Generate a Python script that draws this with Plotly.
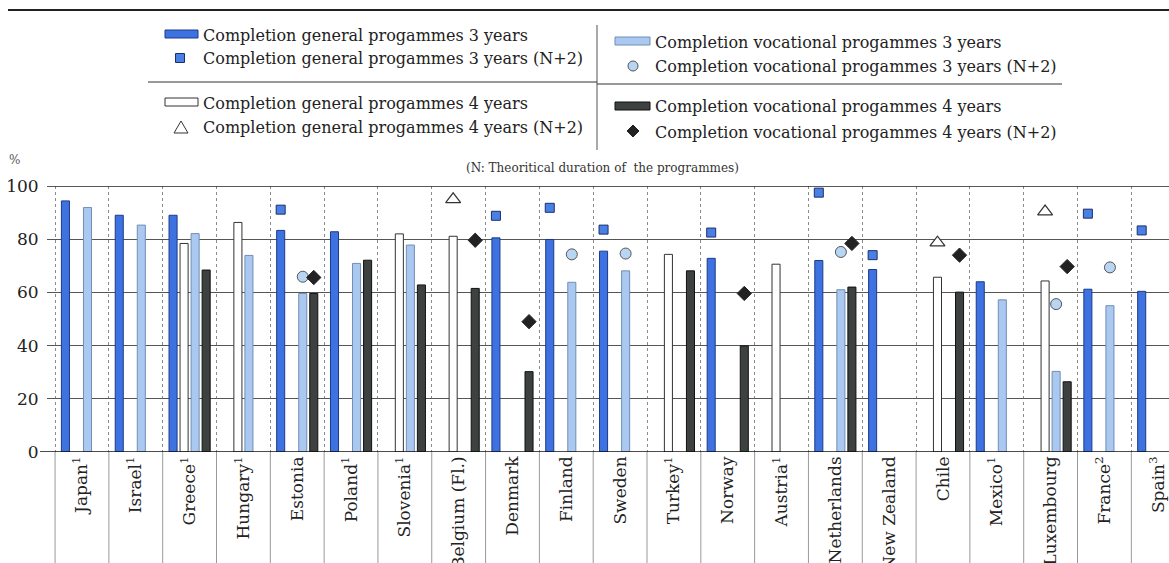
import plotly.graph_objects as go

# ---------------- data ----------------
countries = ["Japan<sup>1</sup>", "Israel<sup>1</sup>", "Greece<sup>1</sup>", "Hungary<sup>1</sup>",
             "Estonia", "Poland<sup>1</sup>", "Slovenia<sup>1</sup>", "Belgium (Fl.)", "Denmark",
             "Finland", "Sweden", "Turkey<sup>1</sup>", "Norway", "Austria<sup>1</sup>",
             "Netherlands", "New Zealand", "Chile", "Mexico<sup>1</sup>", "Luxembourg",
             "France<sup>2</sup>", "Spain<sup>3</sup>"]
N = None
general_3y = [94.4, 89.0, 89.0, N, 83.3, 82.8, N, N, 80.5, 79.9, 75.5, N, 72.8, N,
              72.0, 68.6, N, 64.0, N, 61.2, 60.4]
general_4y = [N, N, 78.4, 86.3, N, N, 82.0, 81.1, N, N, N, 74.3, N, 70.6,
              N, N, 65.7, N, 64.3, N, N]
vocational_3y = [91.9, 85.3, 82.1, 73.9, 59.6, 70.9, 77.8, N, N, 63.8, 68.1, N, N, N,
                 61.0, N, N, 57.2, 30.3, 55.0, N]
vocational_4y = [N, N, 68.4, N, 59.6, 72.1, 62.8, 61.5, 30.2, N, N, 68.1, 39.9, N,
                 62.0, N, 60.1, N, 26.4, N, N]
general_3y_n2 = [N, N, N, N, 91.1, N, N, N, 88.8, 91.8, 83.6, N, 82.5, N,
                 97.5, 74.0, N, N, N, 89.6, 83.3]
general_4y_n2 = [N, N, N, N, N, N, N, 95.0, N, N, N, N, N, N,
                 N, N, 78.7, N, 90.4, N, N]
vocational_3y_n2 = [N, N, N, N, 65.9, N, N, N, N, 74.3, 74.6, N, N, N,
                    75.2, N, N, N, 55.6, 69.4, N]
vocational_4y_n2 = [N, N, N, N, 65.6, N, N, 79.6, 49.0, N, N, N, 59.6, N,
                    78.4, N, 74.0, N, 69.7, N, N]

legend_labels = [
    "Completion general progammes 3 years",
    "Completion general progammes 3 years (N+2)",
    "Completion general progammes 4 years",
    "Completion general progammes 4 years (N+2)",
    "Completion vocational progammes 3 years",
    "Completion vocational progammes 3 years (N+2)",
    "Completion vocational progammes 4 years",
    "Completion vocational progammes 4 years (N+2)",
]

# ---------------- styles ----------------
BLUE, BLUE_LINE = "#3d72e0", "#1d3a8a"
LBLUE, LBLUE_LINE = "#abc9f0", "#6f8fb5"
WHITE, WHITE_LINE = "#ffffff", "#333333"
DARK, DARK_LINE = "#3d4140", "#111111"
SQ, SQ_LINE = "#4a80e6", "#1b2f6b"
CIRC, CIRC_LINE = "#b8d5f3", "#555555"
DIAM = "#222222"
SERIF = "DejaVu Serif"

W, H = 1169, 563
ML, MR, MT, MB = 47, 0, 186, 111
PW, PH = W - ML - MR, H - MT - MB


def px_x(x):
    return (x - ML) / PW


def px_y(y):
    return (H - MB - y) / PH


fig = go.Figure()

bar_specs = [
    (general_3y, legend_labels[0], BLUE, BLUE_LINE),
    (general_4y, legend_labels[2], WHITE, WHITE_LINE),
    (vocational_3y, legend_labels[4], LBLUE, LBLUE_LINE),
    (vocational_4y, legend_labels[6], DARK, DARK_LINE),
]
for i, (vals, name, fc, lc) in enumerate(bar_specs):
    fig.add_trace(go.Bar(x=countries, y=vals, name=name, marker_color=fc,
                         offsetgroup=str(i + 1),
                         marker_line_color=lc, marker_line_width=1, showlegend=False))

sc_specs = [
    (general_3y_n2, legend_labels[1], "square", 9, SQ, SQ_LINE, 1),
    (general_4y_n2, legend_labels[3], "triangle-up", 13, "#ffffff", "#333333", 1.2),
    (vocational_3y_n2, legend_labels[5], "circle", 11, CIRC, CIRC_LINE, 1),
    (vocational_4y_n2, legend_labels[7], "diamond", 11, DIAM, DIAM, 1),
]
for i, (vals, name, sym, sz, fc, lc, lw) in enumerate(sc_specs):
    fig.add_trace(go.Scatter(x=countries, y=vals, name=name, mode="markers",
                             offsetgroup=str(i + 1), cliponaxis=False,
                             marker=dict(symbol=sym, size=sz, color=fc,
                                         line=dict(color=lc, width=lw)),
                             showlegend=False))

shapes = []
# separators in label area
for i in range(len(countries) + 1):
    shapes.append(dict(type="line", xref="x", yref="paper", x0=i - 0.5, x1=i - 0.5,
                       y0=0, y1=-MB / PH, line=dict(color="#999999", width=1)))
# top border line of plot at 100
shapes.append(dict(type="line", xref="paper", yref="y", x0=0, x1=1, y0=100, y1=100,
                   line=dict(color="#222222", width=1.5)))
# zero line extension
shapes.append(dict(type="line", xref="paper", yref="y", x0=px_x(40), x1=1, y0=0, y1=0,
                   line=dict(color="#111111", width=1.5)))
# top rule
shapes.append(dict(type="line", xref="paper", yref="paper", x0=px_x(8), x1=px_x(1169),
                   y0=px_y(10), y1=px_y(10), line=dict(color="#222222", width=2)))
# legend separators
shapes.append(dict(type="line", xref="paper", yref="paper", x0=px_x(597), x1=px_x(597),
                   y0=px_y(25), y1=px_y(150), line=dict(color="#555555", width=1)))
shapes.append(dict(type="line", xref="paper", yref="paper", x0=px_x(148), x1=px_x(597),
                   y0=px_y(82), y1=px_y(82), line=dict(color="#333333", width=1)))
shapes.append(dict(type="line", xref="paper", yref="paper", x0=px_x(597), x1=px_x(1062),
                   y0=px_y(84), y1=px_y(84), line=dict(color="#333333", width=1)))


def rect_key(x0, x1, yc, fc, lc):
    shapes.append(dict(type="rect", xref="paper", yref="paper", x0=px_x(x0), x1=px_x(x1),
                       y0=px_y(yc - 4), y1=px_y(yc + 4), fillcolor=fc,
                       line=dict(color=lc, width=1)))


def sym_key(kind, xc, yc, fc, lc):
    if kind == "square":
        shapes.append(dict(type="rect", xref="paper", yref="paper", x0=px_x(xc - 4.5),
                           x1=px_x(xc + 4.5), y0=px_y(yc - 4.5), y1=px_y(yc + 4.5),
                           fillcolor=fc, line=dict(color=lc, width=1)))
    elif kind == "circle":
        shapes.append(dict(type="circle", xref="paper", yref="paper", x0=px_x(xc - 5),
                           x1=px_x(xc + 5), y0=px_y(yc - 5), y1=px_y(yc + 5),
                           fillcolor=fc, line=dict(color=lc, width=1)))
    elif kind == "triangle":
        p = "M {} {} L {} {} L {} {} Z".format(px_x(xc), px_y(yc - 6), px_x(xc - 7),
                                               px_y(yc + 6), px_x(xc + 7), px_y(yc + 6))
        shapes.append(dict(type="path", xref="paper", yref="paper", path=p,
                           fillcolor=fc, line=dict(color=lc, width=1)))
    elif kind == "diamond":
        p = "M {} {} L {} {} L {} {} L {} {} Z".format(px_x(xc), px_y(yc - 6), px_x(xc + 6),
                                                       px_y(yc), px_x(xc), px_y(yc + 6),
                                                       px_x(xc - 6), px_y(yc))
        shapes.append(dict(type="path", xref="paper", yref="paper", path=p,
                           fillcolor=fc, line=dict(color=lc, width=1)))


annotations = []


def label(text, x, y, size=16, color="#222222", xanchor="left"):
    annotations.append(dict(text=text, xref="paper", yref="paper", x=px_x(x), y=px_y(y),
                            xanchor=xanchor, yanchor="middle", showarrow=False,
                            font=dict(family=SERIF, size=size, color=color)))


# left legend column
rect_key(165, 198, 34, BLUE, BLUE_LINE)
label(legend_labels[0], 201, 35)
sym_key("square", 180, 58, SQ, SQ_LINE)
label(legend_labels[1], 201, 59)
rect_key(165, 198, 102, WHITE, WHITE_LINE)
label(legend_labels[2], 201, 103)
sym_key("triangle", 181, 127, "#ffffff", "#333333")
label(legend_labels[3], 201, 128)
# right legend column
rect_key(615, 650, 41, LBLUE, LBLUE_LINE)
label(legend_labels[4], 653, 42)
sym_key("circle", 633, 66, CIRC, CIRC_LINE)
label(legend_labels[5], 653, 67)
rect_key(615, 650, 106, DARK, DARK_LINE)
label(legend_labels[6], 653, 107)
sym_key("diamond", 633, 131, DIAM, DIAM)
label(legend_labels[7], 653, 132)
# axis unit + note
label("%", 14, 160, size=12, color="#555555", xanchor="center")
label("(N: Theoritical duration of  the programmes)", 602, 168, size=12,
      color="#333333", xanchor="center")

fig.update_layout(
    width=W, height=H,
    margin=dict(l=ML, r=MR, t=MT, b=MB, autoexpand=False),
    paper_bgcolor="white", plot_bgcolor="white",
    barmode="group", bargap=0.18, bargroupgap=0.27,
    scattermode="group", scattergap=0.18,
    showlegend=False,
    shapes=shapes, annotations=annotations,
    font=dict(family=SERIF, color="#222222"),
)
fig.update_xaxes(type="category", range=[-0.65, 20.2], tickangle=-90,
                 tickson="boundaries", showgrid=True, griddash="dot",
                 gridcolor="#8a8a8a", gridwidth=1, ticks="outside", ticklen=4,
                 tickcolor="rgba(0,0,0,0)", showline=False,
                 automargin=False, ticklabeloverflow="allow",
                 tickfont=dict(family=SERIF, size=17, color="#222222"))
fig.update_yaxes(range=[0, 100], dtick=20, showgrid=True, gridcolor="#555555",
                 gridwidth=1, zeroline=False, showline=False, ticks="outside",
                 ticklen=4, tickcolor="rgba(0,0,0,0)", automargin=False,
                 tickfont=dict(family=SERIF, size=17, color="#222222"))

fig.write_html("out.html", config={"displayModeBar": False},
               post_script="document.body.style.margin='0';document.body.style.overflow='hidden';")
